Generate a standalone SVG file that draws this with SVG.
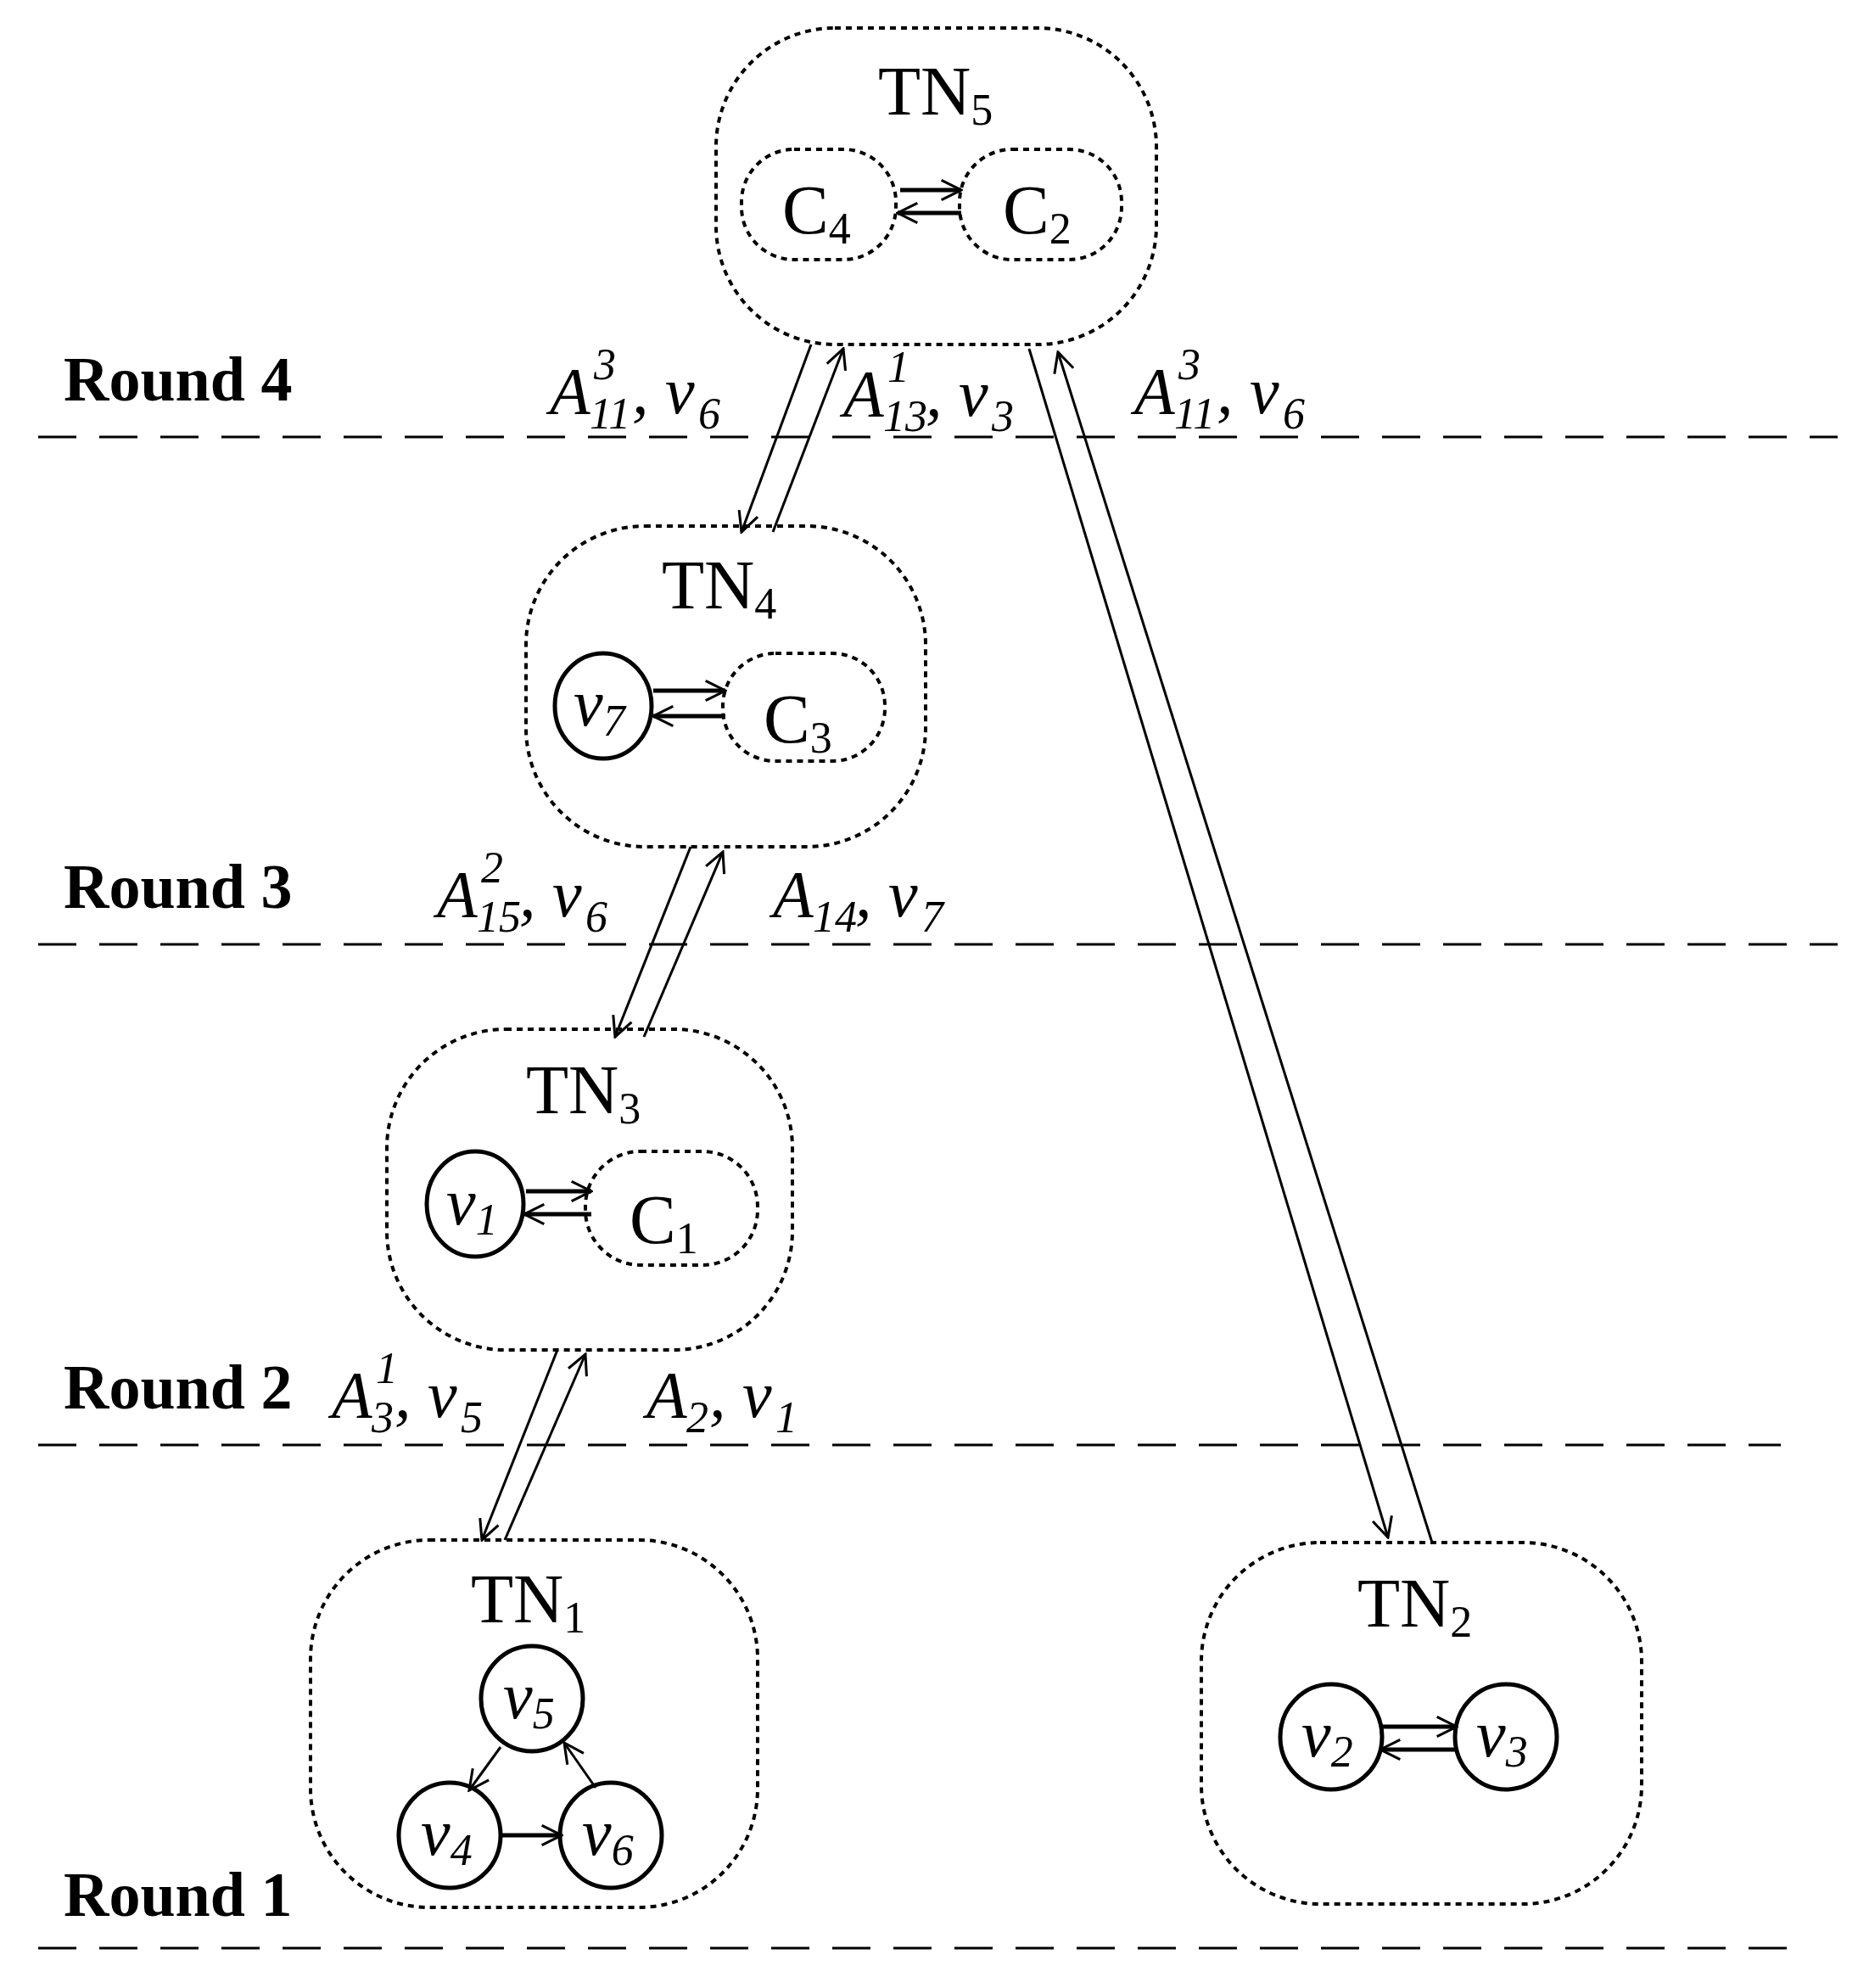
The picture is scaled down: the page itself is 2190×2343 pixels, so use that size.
<svg xmlns="http://www.w3.org/2000/svg" width="2190" height="2343" viewBox="0 0 2190 2343">
<style>
.bx{fill:none;stroke:#000;stroke-width:4;stroke-dasharray:7 6}
.cl{fill:#fff;stroke:#000;stroke-width:5}
.ln{fill:none;stroke:#000;stroke-width:3;marker-end:url(#ah)}
.ln2{fill:none;stroke:#000;stroke-width:5;marker-end:url(#ah)}
.dl{stroke:#000;stroke-width:3;stroke-dasharray:45 27}
.t{font-family:"Liberation Serif",serif;font-size:82px}
.it{font-family:"Liberation Serif",serif;font-size:78px;font-style:italic}
.s{font-size:52px}
.r{font-family:"Liberation Serif",serif;font-size:74px;font-weight:bold}
</style>
<defs>
<marker id="ah" viewBox="0 0 12 12" refX="11" refY="6" markerWidth="28" markerHeight="28" markerUnits="userSpaceOnUse" orient="auto"><path d="M1,1 L11,6 L1,11" fill="none" stroke="#000" stroke-width="1.3"/></marker>
</defs>
<g id="rounds">
<line class="dl" x1="45" y1="515" x2="2166" y2="515"/>
<line class="dl" x1="45" y1="1113" x2="2166" y2="1113"/>
<line class="dl" x1="45" y1="1703" x2="2099" y2="1703"/>
<line class="dl" x1="45" y1="2296" x2="2129" y2="2296"/>
<text class="r" x="75" y="472">Round 4</text>
<text class="r" x="75" y="1070">Round 3</text>
<text class="r" x="75" y="1660">Round 2</text>
<text class="r" x="75" y="2258">Round 1</text>
</g>
<g id="TN5">
<rect class="bx" x="844" y="33" width="519" height="373" rx="140"/>
<text class="t" x="1035" y="135">TN<tspan class="s" dy="12">5</tspan></text>
<rect class="bx" x="874" y="176" width="182" height="130" rx="62"/>
<rect class="bx" x="1131" y="176" width="191" height="130" rx="62"/>
<text class="t" x="922" y="275">C<tspan class="s" dy="12">4</tspan></text>
<text class="t" x="1182" y="275">C<tspan class="s" dy="12">2</tspan></text>
<line class="ln2" x1="1061" y1="224" x2="1133" y2="224"/>
<line class="ln2" x1="1133" y1="251" x2="1058" y2="251"/>
</g>
<g id="TN4">
<rect class="bx" x="620" y="620" width="471" height="378" rx="140"/>
<text class="t" x="780" y="717">TN<tspan class="s" dy="12">4</tspan></text>
<ellipse class="cl" cx="711" cy="832" rx="57" ry="62"/>
<text class="it" x="676" y="855">v<tspan class="s" dy="12">7</tspan></text>
<rect class="bx" x="852" y="770" width="191" height="127" rx="62"/>
<text class="t" x="900" y="875">C<tspan class="s" dy="12">3</tspan></text>
<line class="ln2" x1="770" y1="814" x2="855" y2="814"/>
<line class="ln2" x1="855" y1="844" x2="770" y2="844"/>
</g>
<g id="TN3">
<rect class="bx" x="456" y="1213" width="478" height="378" rx="140"/>
<text class="t" x="620" y="1312">TN<tspan class="s" dy="12">3</tspan></text>
<ellipse class="cl" cx="560" cy="1419" rx="57" ry="62"/>
<text class="it" x="526" y="1443">v<tspan class="s" dy="12">1</tspan></text>
<rect class="bx" x="690" y="1357" width="203" height="134" rx="65"/>
<text class="t" x="742" y="1465">C<tspan class="s" dy="12">1</tspan></text>
<line class="ln2" x1="620" y1="1404" x2="697" y2="1404"/>
<line class="ln2" x1="697" y1="1431" x2="618" y2="1431"/>
</g>
<g id="TN1">
<rect class="bx" x="366" y="1815" width="527" height="433" rx="140"/>
<text class="t" x="555" y="1912">TN<tspan class="s" dy="12">1</tspan></text>
<ellipse class="cl" cx="627" cy="2002" rx="60" ry="62"/>
<text class="it" x="593" y="2025">v<tspan class="s" dy="12">5</tspan></text>
<ellipse class="cl" cx="530" cy="2163" rx="60" ry="62"/>
<text class="it" x="496" y="2186">v<tspan class="s" dy="12">4</tspan></text>
<ellipse class="cl" cx="720" cy="2163" rx="60" ry="62"/>
<text class="it" x="686" y="2186">v<tspan class="s" dy="12">6</tspan></text>
<line class="ln" x1="590" y1="2059" x2="553" y2="2110"/>
<line class="ln" x1="702" y1="2107" x2="665" y2="2054"/>
<line class="ln2" x1="590" y1="2163" x2="662" y2="2163"/>
</g>
<g id="TN2">
<rect class="bx" x="1416" y="1818" width="519" height="426" rx="140"/>
<text class="t" x="1600" y="1917">TN<tspan class="s" dy="12">2</tspan></text>
<ellipse class="cl" cx="1569" cy="2047" rx="60" ry="62"/>
<text class="it" x="1534" y="2070">v<tspan class="s" dy="12">2</tspan></text>
<ellipse class="cl" cx="1775" cy="2047" rx="60" ry="62"/>
<text class="it" x="1740" y="2070">v<tspan class="s" dy="12">3</tspan></text>
<line class="ln2" x1="1629" y1="2035" x2="1717" y2="2035"/>
<line class="ln2" x1="1715" y1="2062" x2="1627" y2="2062"/>
</g>
<g id="connectors">
<line class="ln" x1="956" y1="406" x2="874" y2="627"/>
<line class="ln" x1="911" y1="627" x2="994" y2="411"/>
<line class="ln" x1="1213" y1="411" x2="1636" y2="1812"/>
<line class="ln" x1="1688" y1="1818" x2="1247" y2="415"/>
<line class="ln" x1="814" y1="998" x2="725" y2="1222"/>
<line class="ln" x1="759" y1="1222" x2="852" y2="1004"/>
<line class="ln" x1="657" y1="1591" x2="568" y2="1815"/>
<line class="ln" x1="595" y1="1815" x2="690" y2="1596"/>
</g>
<g id="labels">
<text class="it" x="648" y="487">A<tspan class="s" x="700" y="447">3</tspan><tspan class="s" x="695" y="505">11</tspan><tspan x="745" y="487">, v</tspan><tspan class="s" x="823" y="505">6</tspan></text>
<text class="it" x="994" y="490">A<tspan class="s" x="1046" y="450">1</tspan><tspan class="s" x="1041" y="508">13</tspan><tspan x="1091" y="490">, v</tspan><tspan class="s" x="1169" y="508">3</tspan></text>
<text class="it" x="1337" y="487">A<tspan class="s" x="1389" y="447">3</tspan><tspan class="s" x="1384" y="505">11</tspan><tspan x="1434" y="487">, v</tspan><tspan class="s" x="1512" y="505">6</tspan></text>
<text class="it" x="515" y="1080">A<tspan class="s" x="567" y="1040">2</tspan><tspan class="s" x="562" y="1098">15</tspan><tspan x="612" y="1080">, v</tspan><tspan class="s" x="690" y="1098">6</tspan></text>
<text class="it" x="911" y="1080">A<tspan class="s" x="958" y="1098">14</tspan><tspan x="1008" y="1080">, v</tspan><tspan class="s" x="1086" y="1098">7</tspan></text>
<text class="it" x="391" y="1670">A<tspan class="s" x="443" y="1630">1</tspan><tspan class="s" x="438" y="1688">3</tspan><tspan x="465" y="1670">, v</tspan><tspan class="s" x="543" y="1688">5</tspan></text>
<text class="it" x="762" y="1670">A<tspan class="s" x="809" y="1688">2</tspan><tspan x="836" y="1670">, v</tspan><tspan class="s" x="914" y="1688">1</tspan></text>
</g>
</svg>
